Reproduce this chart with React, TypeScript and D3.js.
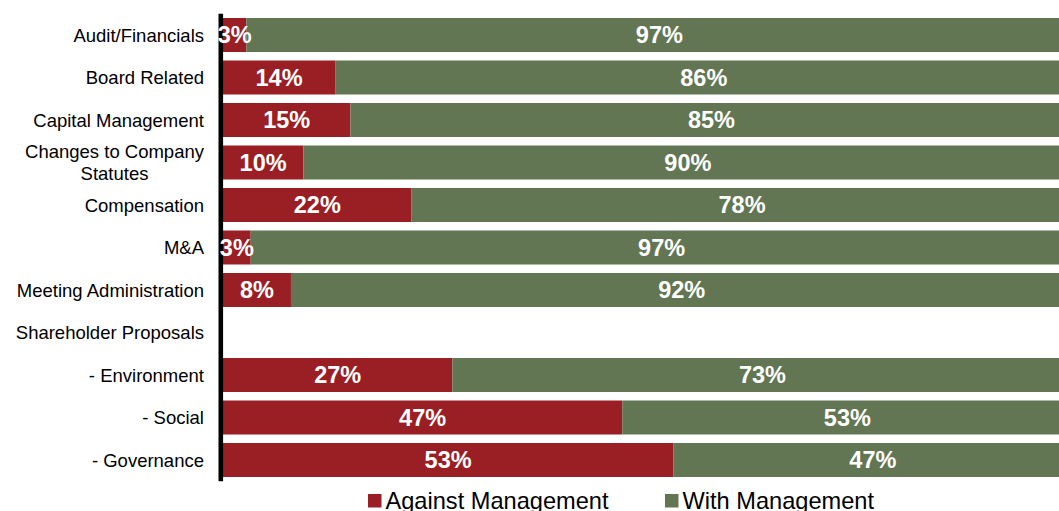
import React from "react";
import * as d3 from "d3";

const categories: string[] = [
  "Audit/Financials",
  "Board Related",
  "Capital Management",
  "Changes to Company\nStatutes",
  "Compensation",
  "M&A",
  "Meeting Administration",
  "Shareholder Proposals",
  "- Environment",
  "- Social",
  "- Governance",
];

// Against-management share (%); null = no bar
const againstValues: (number | null)[] = [2.74, 13.2, 15.0, 9.45, 22.2, 3.26, 8.0, null, 27.0, 47.0, 53.0];
// Labels printed on the bars
const againstLabels: (string | null)[] = ["3%", "14%", "15%", "10%", "22%", "3%", "8%", null, "27%", "47%", "53%"];
const withLabels: (string | null)[] = ["97%", "86%", "85%", "90%", "78%", "97%", "92%", null, "73%", "53%", "47%"];

const seriesNames: string[] = ["Against Management", "With Management"];

const W = 1059;
const H = 511;
const RED = "#991F25";
const GREEN = "#627653";
const FONT = "'Liberation Sans', Arial, Helvetica, sans-serif";

const x0 = 223;
const x100 = 1072.5;
const yTop = 13.75;
const yBottom = 481.25;
const labelRight = 204;
const catFontSize = 18.5;

function measure(text: string, font: string): number {
  if (typeof document === "undefined") return text.length * 9;
  const c = document.createElement("canvas");
  const ctx = c.getContext("2d");
  if (!ctx) return text.length * 9;
  ctx.font = font;
  return ctx.measureText(text).width;
}

export default function App() {
  const x = d3.scaleLinear().domain([0, 100]).range([x0, x100]);
  const y = d3
    .scaleBand<string>()
    .domain(categories)
    .range([yTop, yBottom])
    .paddingInner(0.2)
    .paddingOuter(0.1);
  const bw = y.bandwidth();

  const legendX = [368, 665];

  return (
    <div style={{ position: "absolute", left: 0, top: 0 }}>
      <svg width={W} height={H} style={{ display: "block", fontFamily: FONT }}>
        <rect x={0} y={0} width={W} height={H} fill="#ffffff" />
        {categories.map((cat, i) => {
          const v = againstValues[i];
          const yy = y(cat) as number;
          if (v == null) return null;
          return (
            <g key={"b" + i}>
              <rect x={x(0)} y={yy} width={x(v) - x(0)} height={bw} fill={RED} />
              <rect x={x(v)} y={yy} width={x(100) - x(v)} height={bw} fill={GREEN} />
            </g>
          );
        })}
        <line x1={220.8} x2={220.8} y1={yTop} y2={yBottom} stroke="#000" strokeWidth={4.6} />
        {categories.map((cat, i) => {
          const v = againstValues[i];
          const yy = (y(cat) as number) + bw / 2;
          if (v == null) return null;
          return (
            <g key={"l" + i} fill="#fff" fontWeight="bold" fontSize={23.5} textAnchor="middle">
              <text x={(x(0) + x(v)) / 2} y={yy} dy="0.36em">
                {againstLabels[i]}
              </text>
              <text x={(x(v) + x(100)) / 2} y={yy} dy="0.36em">
                {withLabels[i]}
              </text>
            </g>
          );
        })}
        {categories.map((cat, i) => {
          const lines = cat.split("\n");
          const cy = (y(cat) as number) + bw / 2;
          if (lines.length === 1) {
            return (
              <text key={"c" + i} x={labelRight} y={cy} dy="0.36em" textAnchor="end" fontSize={catFontSize} fill="#000">
                {cat}
              </text>
            );
          }
          const font = `${catFontSize}px ${FONT}`;
          const maxW = Math.max(...lines.map((l) => measure(l, font)));
          const lh = 22.6;
          const cx = labelRight - maxW / 2;
          return (
            <text key={"c" + i} x={cx} textAnchor="middle" fontSize={catFontSize} fill="#000">
              {lines.map((l, j) => (
                <tspan key={j} x={cx} y={cy + (j - (lines.length - 1) / 2) * lh} dy="0.36em">
                  {l}
                </tspan>
              ))}
            </text>
          );
        })}
        {seriesNames.map((name, i) => (
          <g key={"lg" + i}>
            <rect x={legendX[i]} y={494} width={13.5} height={13.5} fill={i === 0 ? RED : GREEN} />
            <text x={legendX[i] + 17.5} y={509} fontSize={23.6} fill="#000">
              {name}
            </text>
          </g>
        ))}
      </svg>
    </div>
  );
}
